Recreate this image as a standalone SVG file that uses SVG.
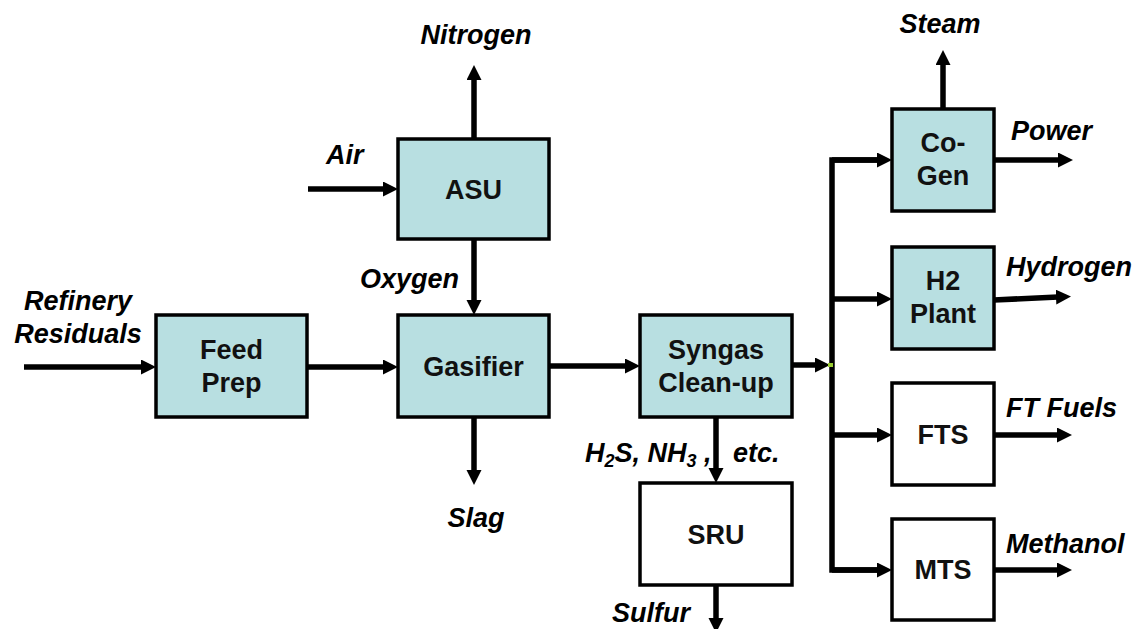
<svg xmlns="http://www.w3.org/2000/svg" width="1135" height="629" viewBox="0 0 1135 629">
<style>
.box{stroke:#000;stroke-width:3.5}
.blue{fill:#b8dfe1}
.white{fill:#fff}
.bt{font-family:"Liberation Sans",Arial,sans-serif;font-weight:bold;font-size:27px;text-anchor:middle;fill:#111}
.lb{font-family:"Liberation Sans",Arial,sans-serif;font-weight:bold;font-style:italic;font-size:27px;fill:#000}
.ln{stroke:#000;stroke-width:5.5;fill:none}
.ar{marker-end:url(#ah)}
</style>
<defs>
<marker id="ah" markerUnits="userSpaceOnUse" markerWidth="16" markerHeight="16" refX="2" refY="7.5" orient="auto">
<path d="M0,0 L15,7.5 L0,15 z" fill="#000"/>
</marker>
</defs>
<rect width="1135" height="629" fill="#fff"/>
<g id="connectors">
<line class="ln ar" x1="24" y1="367" x2="143" y2="367"/>
<line class="ln ar" x1="307" y1="367" x2="385" y2="367"/>
<line class="ln ar" x1="308" y1="189" x2="385" y2="189"/>
<line class="ln ar" x1="474" y1="139" x2="474" y2="78"/>
<line class="ln ar" x1="474" y1="239" x2="474" y2="302"/>
<line class="ln ar" x1="474" y1="417" x2="474" y2="472"/>
<line class="ln ar" x1="549" y1="366" x2="627" y2="366"/>
<line class="ln ar" x1="716" y1="417" x2="716" y2="470"/>
<line class="ln ar" x1="716" y1="585" x2="716" y2="620"/>
<line class="ln ar" x1="792" y1="365" x2="817" y2="365"/>
<polyline class="ln" points="879,160 832,160 832,570 879,570"/>
<line class="ln ar" x1="832" y1="160" x2="879" y2="160"/>
<line class="ln ar" x1="832" y1="299" x2="879" y2="299"/>
<line class="ln ar" x1="832" y1="435" x2="879" y2="435"/>
<line class="ln ar" x1="832" y1="570" x2="879" y2="570"/>
<line class="ln ar" x1="943" y1="109" x2="943" y2="63"/>
<line class="ln ar" x1="994" y1="160" x2="1060" y2="160"/>
<line class="ln ar" x1="994" y1="300" x2="1058" y2="297"/>
<line class="ln ar" x1="994" y1="435" x2="1059" y2="435"/>
<line class="ln ar" x1="994" y1="570" x2="1059" y2="570"/>
<rect x="828" y="363" width="5" height="4" fill="#9acd32"/>
</g>
<g id="feed-prep">
<rect class="box blue" x="156" y="315" width="151" height="102"/>
<text class="bt" x="231.5" y="359">Feed</text>
<text class="bt" x="231.5" y="392">Prep</text>
</g>
<g id="asu">
<rect class="box blue" x="398" y="139" width="151" height="100"/>
<text class="bt" x="473.5" y="199">ASU</text>
</g>
<g id="gasifier">
<rect class="box blue" x="398" y="315" width="151" height="102"/>
<text class="bt" x="473.5" y="375.5">Gasifier</text>
</g>
<g id="syngas">
<rect class="box blue" x="640" y="315" width="152" height="102"/>
<text class="bt" x="716" y="359">Syngas</text>
<text class="bt" x="716" y="392">Clean-up</text>
</g>
<g id="sru">
<rect class="box white" x="640" y="483" width="152" height="102"/>
<text class="bt" x="716" y="543.5">SRU</text>
</g>
<g id="cogen">
<rect class="box blue" x="892" y="109" width="102" height="102"/>
<text class="bt" x="943" y="152">Co-</text>
<text class="bt" x="943" y="185">Gen</text>
</g>
<g id="h2plant">
<rect class="box blue" x="892" y="247" width="102" height="102"/>
<text class="bt" x="943" y="290">H2</text>
<text class="bt" x="943" y="323">Plant</text>
</g>
<g id="fts">
<rect class="box white" x="892" y="383" width="102" height="102"/>
<text class="bt" x="943" y="444">FTS</text>
</g>
<g id="mts">
<rect class="box white" x="892" y="519" width="102" height="101"/>
<text class="bt" x="943" y="579">MTS</text>
</g>
<g id="labels">
<text class="lb" x="476" y="44" text-anchor="middle">Nitrogen</text>
<text class="lb" x="326" y="164">Air</text>
<text class="lb" x="459" y="288" text-anchor="end">Oxygen</text>
<text class="lb" x="78" y="310" text-anchor="middle">Refinery</text>
<text class="lb" x="78" y="343" text-anchor="middle">Residuals</text>
<text class="lb" x="476" y="527" text-anchor="middle">Slag</text>
<text class="lb" x="585" y="462">H<tspan font-size="18" dy="5">2</tspan><tspan dy="-5">S, NH</tspan><tspan font-size="18" dy="5">3</tspan><tspan dy="-5"> ,</tspan></text>
<text class="lb" x="733" y="462">etc.</text>
<text class="lb" x="612" y="622">Sulfur</text>
<text class="lb" x="940" y="33" text-anchor="middle">Steam</text>
<text class="lb" x="1011" y="140">Power</text>
<text class="lb" x="1006" y="276">Hydrogen</text>
<text class="lb" x="1006" y="417">FT Fuels</text>
<text class="lb" x="1006" y="553">Methanol</text>
</g>
</svg>
